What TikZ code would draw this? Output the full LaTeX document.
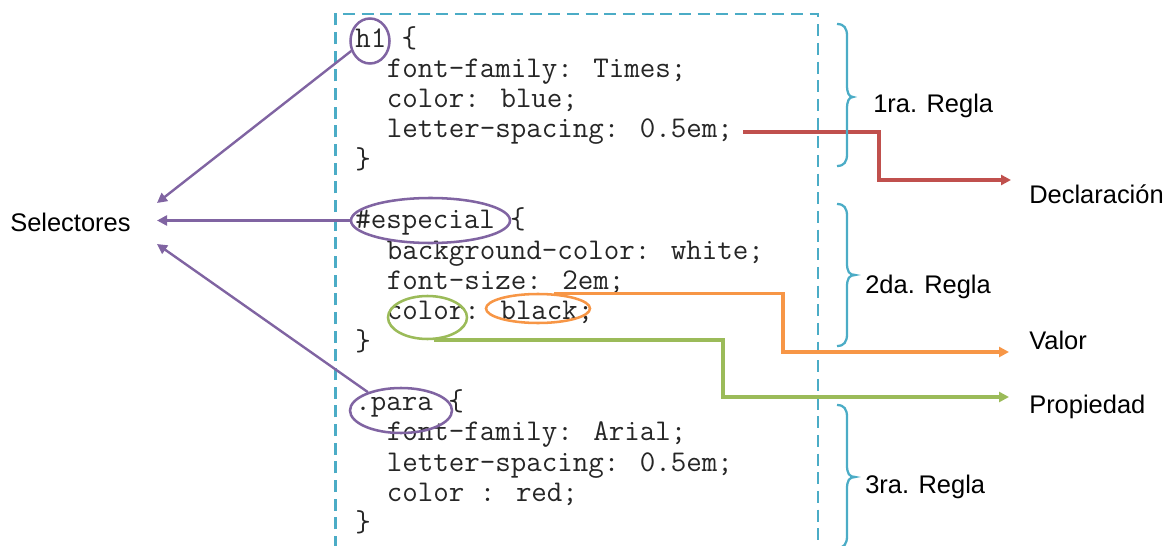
\documentclass[tikz,border=0pt]{standalone}
\usepackage{fontspec}
\usetikzlibrary{shapes.geometric,arrows.meta}
\newfontfamily\labelfont{Liberation Sans}
\definecolor{cssCyan}{HTML}{4BACC6}
\definecolor{cssPurple}{HTML}{8064A2}
\definecolor{cssRed}{HTML}{C0504D}
\definecolor{cssOrange}{HTML}{F79646}
\definecolor{cssGreen}{HTML}{9BBB59}
\begin{document}
\begin{tikzpicture}[x=0.75pt,y=-0.75pt,
  codeline/.style={font=\ttfamily\fontsize{22.57pt}{22.7pt}\selectfont, anchor=base west, inner sep=0pt, text=black!85},
  lbl/.style={font=\labelfont\fontsize{19.1pt}{22pt}\selectfont, anchor=base west, inner sep=0pt, text=black},
  ring/.style={draw, ellipse, inner sep=0pt, line width=1.9pt},
  selarrow/.style={draw=cssPurple, line width=1.8pt, -{Triangle[length=7.5pt,width=7.5pt]}},
  conn/.style={line width=2.3pt, -{Triangle[length=7.5pt,width=7.5pt]}},
  rulebox/.style={draw=cssCyan, line width=2.2pt, dash pattern=on 9pt off 5pt},
  bracecurve/.style={draw=cssCyan, line width=1.7pt}
]
\useasboundingbox (0,0) rectangle (1172,546);

% dashed frame
\draw[rulebox] (335.5,548) -- (335.5,14) -- (818,14) -- (818,548);

% code lines
\node[codeline] (c0)  at (355,47)        {h1 \{};
\node[codeline] (c1)  at (386.6,77.3)    {font-family: Times;};
\node[codeline] (c2)  at (386.6,107.6)   {color: blue;};
\node[codeline] (c3)  at (386.6,137.9)   {letter-spacing: 0.5em;};
\node[codeline] (c4)  at (355,168.2)     {\}};
\node[codeline] (c6)  at (355,228.8)     {\#especial \{};
\node[codeline] (c7)  at (386.6,259.1)   {background-color: white;};
\node[codeline] (c8)  at (386.6,289.4)   {font-size: 2em;};
\node[codeline] (c9)  at (386.6,319.7)   {color: black;};
\node[codeline] (c10) at (355,350)       {\}};
\node[codeline] (c12) at (355,410.6)     {.para \{};
\node[codeline] (c13) at (386.6,440.9)   {font-family: Arial;};
\node[codeline] (c14) at (386.6,471.2)   {letter-spacing: 0.5em;};
\node[codeline] (c15) at (386.6,501.5)   {color : red;};
\node[codeline] (c16) at (355,531.8)     {\}};

% circled items
\node[ring, draw=cssPurple, minimum width=29.25pt, minimum height=33.75pt] (h1e)  at (370,41) {};
\node[ring, draw=cssPurple, minimum width=119.25pt, minimum height=33.75pt] (espe) at (430.5,220.5) {};
\node[ring, draw=cssGreen,  minimum width=59.25pt, minimum height=32.25pt] (colore) at (427.5,317.5) {};
\node[ring, draw=cssOrange, minimum width=78pt, minimum height=21.75pt] (blacke) at (538,308.5) {};
\node[ring, draw=cssPurple, minimum width=76.5pt, minimum height=33.75pt] (parae) at (401,410.5) {};

% labels
\node[lbl] (sel)  at (10,231)   {Selectores};
\node[lbl] (decl) at (1029,203) {Declaración};
\node[lbl] (val)  at (1029,349) {Valor};
\node[lbl] (prop) at (1029,413) {Propiedad};
\node[lbl] (r1)   at (873,112)  {1ra. Regla};
\node[lbl] (r2)   at (865,293)  {2da. Regla};
\node[lbl] (r3)   at (865,493)  {3ra. Regla};

% arrow end points
\coordinate (s1) at (157,203);
\coordinate (s2) at (157,220.5);
\coordinate (s3) at (157,244);
\coordinate (rturn) at (879,180);
\coordinate (dtip) at (1011,180);
\coordinate (oturn) at (783,352);
\coordinate (vtip) at (1009,352);
\coordinate (gturn) at (723,397);
\coordinate (ptip) at (1009,397);

% selector arrows
\draw[selarrow] (h1e.208) -- (s1);
\draw[selarrow] (espe.west) -- (s2);
\draw[selarrow] (parae.151) -- (s3);

% declaration / value / property connectors
\draw[conn, draw=cssRed] ([xshift=7.5pt]c3.east) -| (rturn) -- (dtip);
\draw[conn, draw=cssOrange] (blacke.43) -| (oturn) -- (vtip);
\draw[conn, draw=cssGreen] (colore.-75) -| (gturn) -- (ptip);

% braces
\foreach \t/\m/\b/\tx in {24/97/166/853, 204/275/346/855, 405/477/548/855}{
  \draw[bracecurve] (837,\t) .. controls (844,\t) and (847,\t+4) .. (847,\t+12)
     -- (847,\m-12) .. controls (847,\m-4) and (849,\m) .. (\tx,\m)
     .. controls (849,\m) and (847,\m+4) .. (847,\m+12)
     -- (847,\b-12) .. controls (847,\b-4) and (844,\b) .. (837,\b);
}
\end{tikzpicture}
\end{document}
